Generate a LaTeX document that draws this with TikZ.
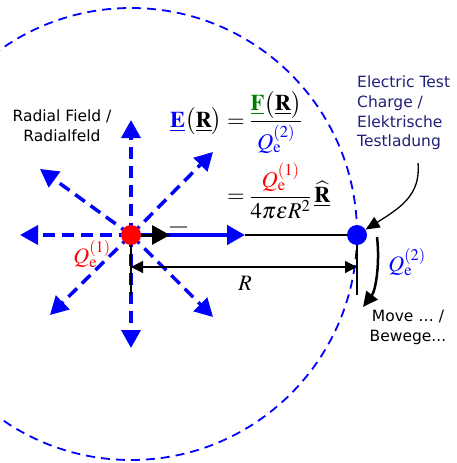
\documentclass[tikz,border=0pt]{standalone}
\usepackage{amsmath}
\usepackage{mathptmx}
\usepackage[no-math]{fontspec}
\setsansfont{DejaVu Sans}
\usetikzlibrary{arrows.meta}
\definecolor{navytext}{RGB}{32,32,120}
\definecolor{forcegreen}{RGB}{0,128,0}
\tikzset{
  field/.style={blue, line width=3.5pt, dash pattern=on 12pt off 7pt, ->},
  dimline/.style={black, line width=1.2pt},
  charge/.style={circle, minimum size=20pt, inner sep=0pt}
}
\begin{document}
\begin{tikzpicture}[x=1pt, y=-1pt, >={Triangle[length=18pt,width=19pt]},
    font=\sffamily\fontsize{15.5}{19.6}\selectfont]
    \useasboundingbox (0,0) rectangle (456,463);
    \begin{scope}
        \clip (0,0) rectangle (456,463);
        \draw[blue, line width=1.8pt, dash pattern=on 9pt off 6pt] (131,234) circle (226pt);
    \end{scope}
    \coordinate (c1) at (131,235);
    \coordinate (c2) at (357,235);
    \coordinate (fN) at (131,120);
    \coordinate (fNW) at (40,169);
    \coordinate (fW) at (20,235);
    \coordinate (fSW) at (50,315);
    \coordinate (fS) at (131,348);
    \coordinate (fSE) at (213,317);
    \coordinate (fNE) at (213,152);
    \coordinate (fE) at (245,235);
    \coordinate (uR) at (170,235);
    \foreach \t in {fN,fNW,fW,fSW,fS,fSE,fNE}
        \draw[field] (c1) -- (\t);
    \draw[dimline] (fE) -- (c2);
    \draw[blue, line width=4.5pt, ->] (c1) -- (fE);
    \draw[black, line width=3pt, ->] (c1) -- (uR);
    \draw[gray, line width=1.3pt] (170,227) -- (187,227);
    % distance R
    \coordinate (d1) at (131,295);
    \coordinate (d2) at (357,295);
    \coordinate (r1) at (131,267);
    \coordinate (r2) at (357,267);
    \draw[dimline] (c1) -- (d1);
    \draw[dimline] (c2) -- (d2);
    \draw[dimline, {Triangle[length=12pt,width=12pt]}-{Triangle[length=12pt,width=12pt]}] (r1) -- (r2);
    \node (rlabel) at (245,283) [font=\fontsize{22}{26}\selectfont] {$R$};
    % charges
    \node (q1) at (c1) [charge, fill=red] {};
    \node (q2) at (c2) [charge, fill=blue] {};
    \node (q1label) at (92,254) [font=\fontsize{22}{26}\selectfont, text=red] {$Q_{\mathrm{e}}^{(1)}$};
    \node (q2label) at (407,262) [font=\fontsize{22}{26}\selectfont, text=blue] {$Q_{\mathrm{e}}^{(2)}$};
    \node (eqn) at (170,155) [anchor=west, inner sep=0pt, font=\fontsize{22.5}{27}\selectfont] {$\begin{aligned}
        {\color{blue}\underline{\mathbf{E}}}\bigl(\underline{\mathbf{R}}\bigr)
          &= \frac{{\color{forcegreen}\underline{\mathbf{F}}}\bigl(\underline{\mathbf{R}}\bigr)}{{\color{blue}Q_{\mathrm{e}}^{(2)}}}\\[6pt]
          &= \frac{{\color{red}Q_{\mathrm{e}}^{(1)}}}{4\pi\varepsilon R^2}\,\widehat{\underline{\mathbf{R}}}
    \end{aligned}$};
    % texts
    \node (radlabel) at (62,126) [align=center, inner sep=0pt] {Radial Field /\\Radialfeld};
    \node (testlabel) at (357,76) [anchor=north west, align=left, inner sep=0pt, text=navytext] {Electric Test\\Charge /\\Elektrische\\Testladung};
    \node (movelabel) at (408,310) [anchor=north, align=center, inner sep=0pt] {Move … /\\Bewege...};
    \coordinate (p1) at (418,163);
    \draw[line width=1.3pt, -{Triangle[length=14pt,width=12pt]}] (p1) .. controls (421,195) and (400,208) .. (q2);
    \coordinate (m1) at (377,237);
    \coordinate (m2) at (363,307);
    \draw[line width=2.5pt, -{Triangle[length=15pt,width=14pt]}] (m1) .. controls (380,262) and (376,290) .. (m2);
\end{tikzpicture}
\end{document}
